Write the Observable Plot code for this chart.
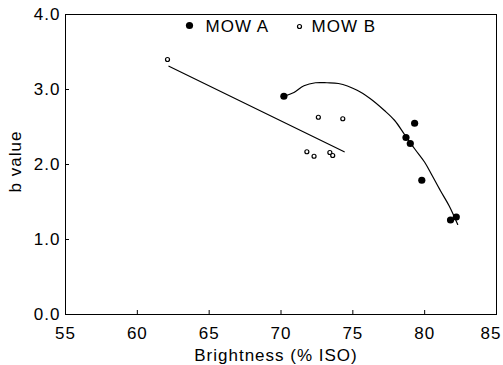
<!DOCTYPE html>
<html>
<head>
<meta charset="utf-8">
<script src="https://cdn.jsdelivr.net/npm/d3@7"></script>
<script src="https://cdn.jsdelivr.net/npm/@observablehq/plot@0.6"></script>
<style>
  html, body { margin: 0; padding: 0; background: white; }
</style>
</head>
<body>
<div id="chart"></div>
<script>
// MOW A (filled dots)
const mowA_x = [70.2, 78.7, 79.0, 79.3, 79.8, 81.8, 82.2];
const mowA_y = [2.91, 2.36, 2.28, 2.55, 1.79, 1.26, 1.30];
// MOW B (open dots)
const mowB_x = [62.1, 71.8, 72.3, 72.6, 73.4, 73.6, 74.3];
const mowB_y = [3.40, 2.17, 2.11, 2.63, 2.16, 2.12, 2.61];
// Linear fit for MOW B
const fitB_x = [62.2, 74.4];
const fitB_y = [3.31, 2.17];
// Curve fit for MOW A
const fitA_x = [70.2, 70.9, 71.6, 72.4, 73.2, 74.0, 75.3, 76.2, 77.2, 77.9, 78.6, 79.3, 80.0, 80.5, 81.1, 81.7, 82.3];
const fitA_y = [2.91, 2.96, 3.05, 3.09, 3.09, 3.08, 2.99, 2.88, 2.72, 2.59, 2.40, 2.21, 2.03, 1.86, 1.65, 1.45, 1.20];
// Ticks
const xTicks = [55, 60, 65, 70, 75, 80];
const xTickLast = [85];
const yTicks = [0, 1, 2, 3, 4];
const legendLabels = ["MOW A", "MOW B"];

const zip = (xs, ys) => xs.map((x, i) => ({x, y: ys[i]}));
const A = zip(mowA_x, mowA_y);
const B = zip(mowB_x, mowB_y);
const fitA = zip(fitA_x, fitA_y);
const fitB = zip(fitB_x, fitB_y);

const font = "'Liberation Sans', Arial, Helvetica, sans-serif";

const chart = Plot.plot({
  width: 503,
  height: 365,
  marginLeft: 65,
  marginRight: 7,
  marginTop: 14,
  marginBottom: 51,
  style: {fontFamily: font, fontSize: "17px", background: "white", color: "black", letterSpacing: "1px"},
  x: {domain: [55, 85]},
  y: {domain: [0, 4]},
  marks: [
    Plot.frame({stroke: "black", strokeWidth: 1}),
    Plot.axisX({ticks: xTicks, tickSize: -4, tickPadding: 16, tickFormat: d => String(d), label: null, fontSize: 17}),
    Plot.axisX({ticks: xTickLast, tickSize: 0, tickPadding: 12, tickFormat: d => String(d), label: null, fontSize: 17, textAnchor: "end", dx: 5}),
    Plot.axisY({ticks: yTicks, tickSize: -4, tickPadding: 9, tickFormat: d => d.toFixed(1), label: null, fontSize: 17}),
    Plot.text(["Brightness (% ISO)"], {frameAnchor: "bottom", dy: 41, dx: -5, text: d => d, fontSize: 17, lineAnchor: "middle"}),
    Plot.text(["b value"], {frameAnchor: "left", rotate: -90, dx: -50, dy: -3, text: d => d, fontSize: 17, lineAnchor: "middle", textAnchor: "middle"}),
    Plot.line(fitB, {x: "x", y: "y", stroke: "black", strokeWidth: 1.2}),
    Plot.line(fitA, {x: "x", y: "y", stroke: "black", strokeWidth: 1.2, curve: "catmull-rom"}),
    Plot.dot(A, {x: "x", y: "y", r: 3.6, fill: "black", stroke: "none"}),
    Plot.dot(B, {x: "x", y: "y", r: 2, fill: "white", stroke: "black", strokeWidth: 1.2}),
    // legend
    Plot.dot([legendLabels[0]], {frameAnchor: "top-left", dx: 124, dy: 11, r: 3.6, fill: "black"}),
    Plot.text([legendLabels[0]], {frameAnchor: "top-left", dx: 140, dy: 12, text: d => d, textAnchor: "start", lineAnchor: "middle", fontSize: 17}),
    Plot.dot([legendLabels[1]], {frameAnchor: "top-left", dx: 234, dy: 12, r: 2, fill: "white", stroke: "black", strokeWidth: 1.2}),
    Plot.text([legendLabels[1]], {frameAnchor: "top-left", dx: 246, dy: 12, text: d => d, textAnchor: "start", lineAnchor: "middle", fontSize: 17})
  ]
});
document.getElementById("chart").appendChild(chart);
</script>
</body>
</html>
